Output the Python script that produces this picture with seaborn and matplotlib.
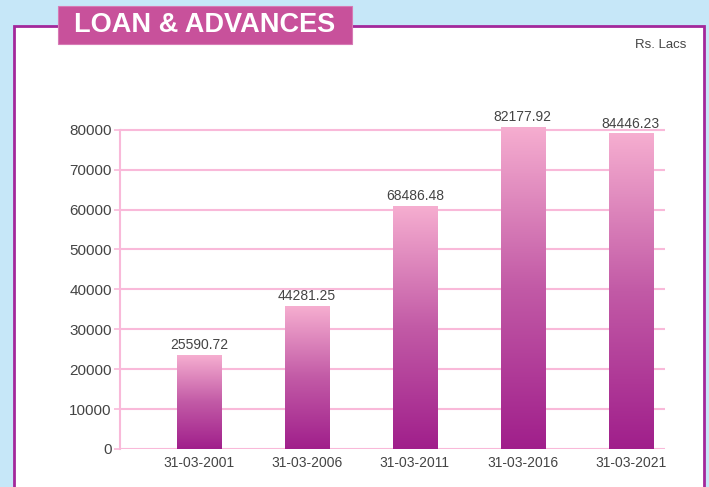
import numpy as np
import pandas as pd
import matplotlib
matplotlib.use('Agg')
import matplotlib.pyplot as plt
from matplotlib.patches import Rectangle
from matplotlib.colors import LinearSegmentedColormap
import seaborn as sns

# data
dates = ['31-03-2001', '31-03-2006', '31-03-2011', '31-03-2016', '31-03-2021']
bar_heights = [23500, 35800, 60900, 80800, 79100]
bar_labels = ['25590.72', '44281.25', '68486.48', '82177.92', '84446.23']
y_ticks = [0, 10000, 20000, 30000, 40000, 50000, 60000, 70000, 80000]

df = pd.DataFrame({'Дата': dates, 'Сумма': bar_heights})

sns.set_style('white')
plt.rcParams['font.family'] = ['Liberation Sans', 'DejaVu Sans']

fig = plt.figure(figsize=(7.09, 4.87), dpi=100)
fig.patch.set_facecolor('#c6e7f8')

W, H = 709, 487
def fx(x): return x / W
def fy(y): return 1 - y / H

# white panel with purple border
fig.patches.append(Rectangle((fx(14), fy(495)), fx(704) - fx(14), fy(26) - fy(495),
                             transform=fig.transFigure, facecolor='white',
                             edgecolor='#a3289b', linewidth=2, zorder=-2))
# title box
fig.patches.append(Rectangle((fx(58), fy(44)), fx(352) - fx(58), fy(6) - fy(44),
                             transform=fig.transFigure, facecolor='#c8519b',
                             edgecolor='#d77ab5', linewidth=0.8, zorder=-1))
fig.text(fx(205), fy(25), 'LOAN & ADVANCES', color='white', fontsize=19.5,
         fontweight='bold', ha='center', va='center', zorder=2)
fig.text(fx(686), fy(45), 'Rs. Lacs', color='#444444', fontsize=9.5,
         ha='right', va='center')

ax = fig.add_axes([fx(120), fy(449), fx(665) - fx(120), fy(110) - fy(449)])
ax.set_facecolor('none')
ax.set_zorder(3)

sns.barplot(data=df, x='Дата', y='Сумма', width=0.408, color='#c8519b', ax=ax)

ax.set_yticks(y_ticks)
ax.set_yticklabels([str(v) for v in y_ticks])
ax.set_xlabel('')
ax.set_ylabel('')

for v in y_ticks:
    ax.axhline(v, color='#f9b9d9', linewidth=1.5, zorder=0.5)

for s in ['top', 'right', 'bottom']:
    ax.spines[s].set_visible(False)
ax.spines['left'].set_color('#f9b9d9')
ax.spines['left'].set_linewidth(1.5)
ax.spines['left'].set_bounds(0, 80000)

ax.tick_params(axis='y', length=4, width=1.2, color='#f9b9d9', labelsize=11,
               labelcolor='#444444', left=True, pad=2)
ax.tick_params(axis='x', length=0, labelsize=10, labelcolor='#444444', pad=5)

# gradient fill of bars
cmap = LinearSegmentedColormap.from_list('pinkgrad', ['#a01f8b', '#c25aa6', '#f6aed0'])
grad = np.linspace(0, 1, 256).reshape(-1, 1)
for bar, lab in zip(ax.patches, bar_labels):
    x0, w, h = bar.get_x(), bar.get_width(), bar.get_height()
    bar.set_facecolor('none')
    bar.set_edgecolor('none')
    im = ax.imshow(grad, cmap=cmap, aspect='auto', origin='lower',
                   extent=[x0, x0 + w, 0, h], zorder=2)
    im.set_clip_path(bar)
    ax.text(x0 + w / 2, h + 700, lab, ha='center', va='bottom',
            fontsize=10, color='#444444')

ax.set_xlim(-0.732, 4.319)
ax.set_ylim(0, 84960)

fig.savefig('out.png', dpi=100, facecolor=fig.get_facecolor())
